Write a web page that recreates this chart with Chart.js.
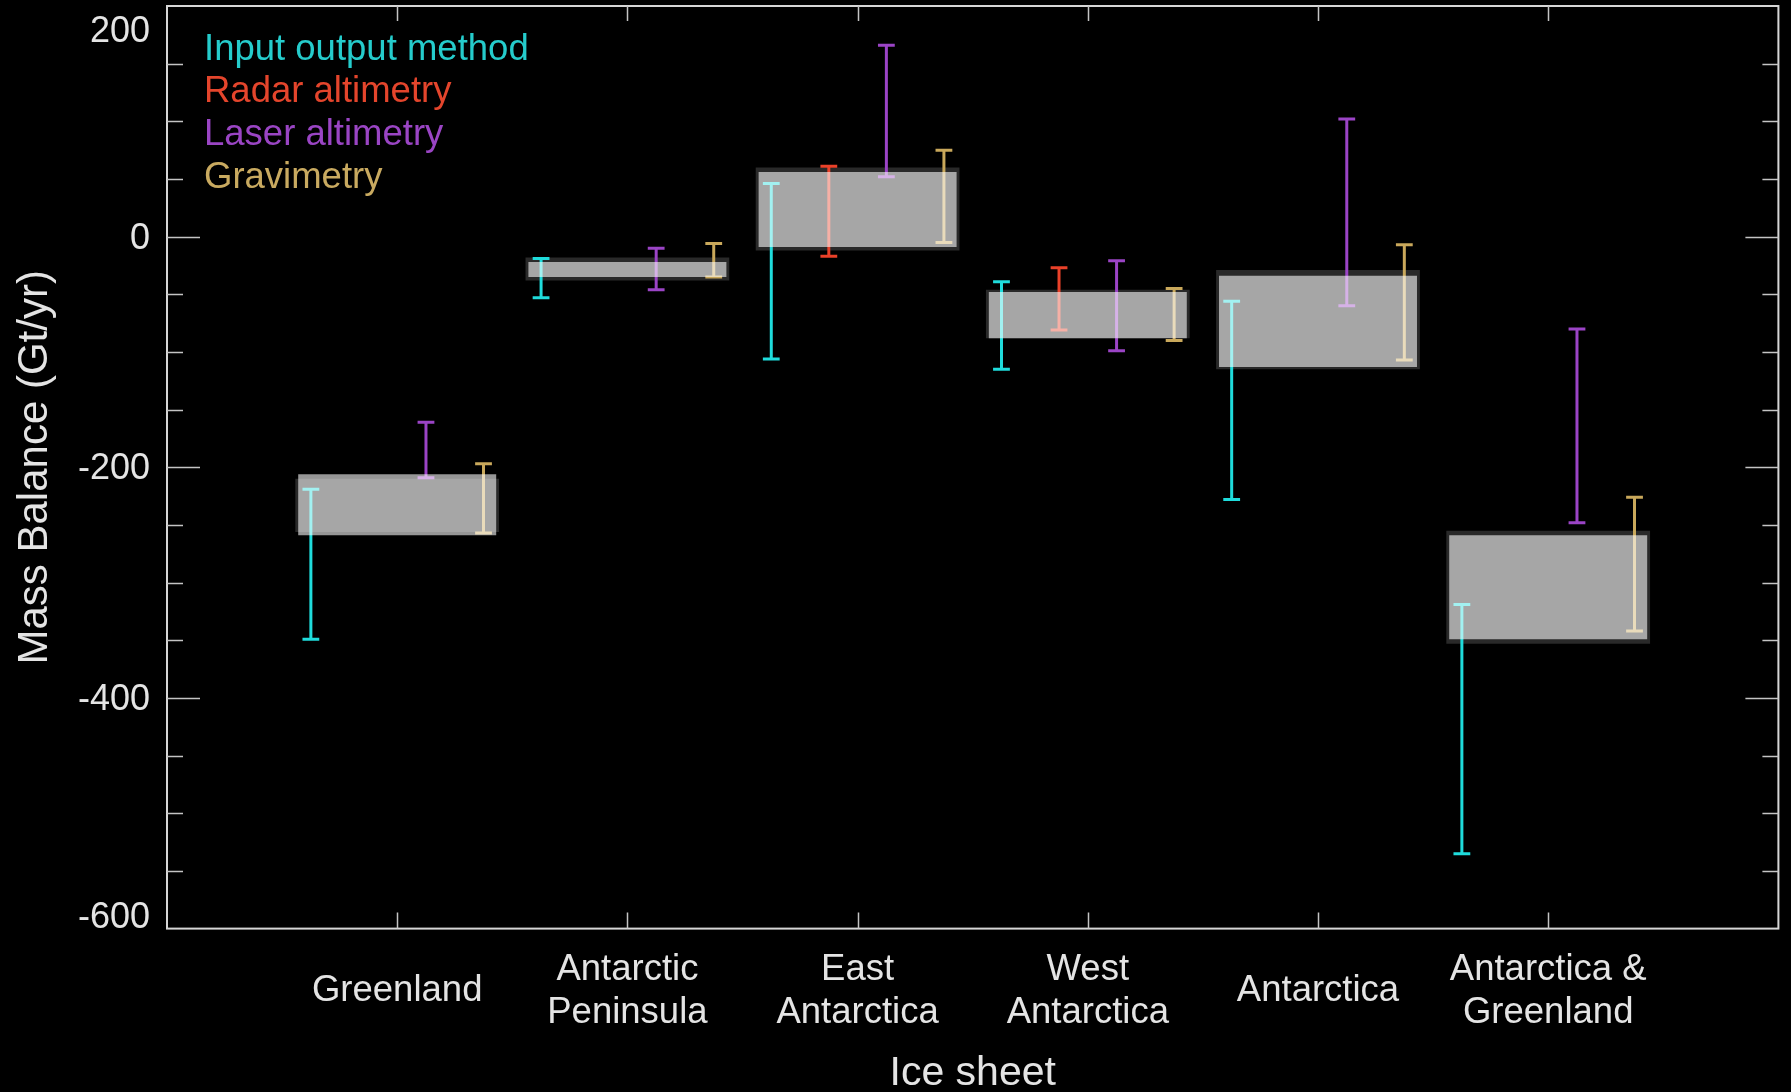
<!DOCTYPE html>
<html>
<head>
<meta charset="utf-8">
<script src="https://cdn.jsdelivr.net/npm/chart.js@4.4.1/dist/chart.umd.min.js"></script>
<style>
  html, body { margin: 0; padding: 0; background: #000; }
  canvas { display: block; }
</style>
</head>
<body>
<canvas id="chart" width="1791" height="1092"></canvas>
<script>
// Ice sheets along the x axis
const categories = [
  'Greenland',
  ['Antarctic', 'Peninsula'],
  ['East', 'Antarctica'],
  ['West', 'Antarctica'],
  'Antarctica',
  ['Antarctica &', 'Greenland']
];

// Measurement methods, in legend order
const methods = ['Input output method', 'Radar altimetry', 'Laser altimetry', 'Gravimetry'];

// Reconciled estimate (light box), Gt/yr
const reconciledLow  = [-259, -35,  -9, -88, -113, -349];
const reconciledHigh = [-206, -22,  56, -48,  -34, -259];

// Outer range (dark box behind), Gt/yr
const outerLow  = [-256, -38, -12, -88, -115, -353];
const outerHigh = [-210, -18,  60, -46,  -29, -255];

// Per-method ranges, Gt/yr (null = no estimate)
const inputOutputLow  = [-349, -53, -106, -115, -228, -535];
const inputOutputHigh = [-219, -19,   46,  -39,  -56, -319];
const radarLow  = [null, null, -17, -81, null, null];
const radarHigh = [null, null,  61, -27, null, null];
const laserLow  = [-209, -46,  52, -99,  -60, -248];
const laserHigh = [-161, -10, 166, -21,  102,  -80];
const gravimetryLow  = [-257, -35, -5, -90, -107, -342];
const gravimetryHigh = [-197,  -6, 75, -45,   -7, -226];

// Value axis
const yMin = -600, yMax = 200;
const yTickLabels = [200, 0, -200, -400, -600];
const yMinorStep = 50;

const methodColors = ['#1fdcdc', '#ea4129', '#9b44c6', '#c9a85b'];
const legendColors = ['#25cccc', '#e4452c', '#9a45c4', '#c9aa60'];
const textColor = '#e4e4e4';
const frameColor = '#d6d6d6';
const FONT = '"Liberation Sans", Arial, Helvetica, sans-serif';

const methodLows = [inputOutputLow, radarLow, laserLow, gravimetryLow];
const methodHighs = [inputOutputHigh, radarHigh, laserHigh, gravimetryHigh];

// Error bars are spread across each category slot
const slotSpread = 0.25;
function errorBarPoints(lows, highs, m) {
  const pts = [];
  const dx = (m - (methods.length - 1) / 2) * slotSpread;
  categories.forEach((_, i) => {
    if (lows[i] === null || highs[i] === null) return;
    const x = i + 1 + dx;
    pts.push({x: x, y: lows[i]}, {x: x, y: highs[i]}, {x: x, y: null});
  });
  return pts;
}

function rangeBars(lows, highs) {
  return categories.map((_, i) => ({x: i + 1, y: [lows[i], highs[i]]}));
}

const datasets = [
  {
    type: 'bar',
    label: 'outer',
    data: rangeBars(outerLow, outerHigh),
    backgroundColor: 'rgba(255,255,255,0.16)',
    borderWidth: 0,
    barPercentage: 0.885,
    categoryPercentage: 1,
    grouped: false,
    order: 3
  },
  ...methods.map((name, m) => ({
    type: 'line',
    label: name,
    data: errorBarPoints(methodLows[m], methodHighs[m], m),
    borderColor: methodColors[m],
    borderWidth: 3,
    pointStyle: 'line',
    pointRadius: 8.4,
    pointBorderWidth: 3,
    pointBorderColor: methodColors[m],
    pointBackgroundColor: methodColors[m],
    spanGaps: false,
    tension: 0,
    fill: false,
    order: 2
  })),
  {
    type: 'bar',
    label: 'reconciled',
    data: rangeBars(reconciledLow, reconciledHigh),
    backgroundColor: 'rgba(255,255,255,0.59)',
    borderWidth: 0,
    barPercentage: 0.86,
    categoryPercentage: 1,
    grouped: false,
    order: 1
  }
];

// Frame, inward tick marks, value labels and the method legend
const framePlugin = {
  id: 'frame',
  afterDraw(chart) {
    const {ctx, chartArea: a, scales: {x, y}} = chart;
    ctx.save();
    ctx.strokeStyle = frameColor;
    ctx.lineWidth = 2;
    ctx.strokeRect(a.left, a.top, a.right - a.left, a.bottom - a.top);

    ctx.lineWidth = 1.5;
    ctx.strokeStyle = '#c4c4c4';
    ctx.beginPath();
    for (let v = yMin + yMinorStep; v < yMax; v += yMinorStep) {
      const py = Math.round(y.getPixelForValue(v)) + 0.5;
      const len = yTickLabels.includes(v) ? 33 : 16;
      ctx.moveTo(a.left, py); ctx.lineTo(a.left + len, py);
      ctx.moveTo(a.right, py); ctx.lineTo(a.right - len, py);
    }
    categories.forEach((_, i) => {
      const px = Math.round(x.getPixelForValue(i + 1)) + 0.5;
      ctx.moveTo(px, a.bottom); ctx.lineTo(px, a.bottom - 16);
      ctx.moveTo(px, a.top); ctx.lineTo(px, a.top + 15);
    });
    ctx.stroke();

    // value labels, kept inside the frame at the two ends
    ctx.fillStyle = textColor;
    ctx.font = '36px ' + FONT;
    ctx.textAlign = 'right';
    ctx.textBaseline = 'middle';
    yTickLabels.forEach(v => {
      let py = y.getPixelForValue(v) + 2;
      py = Math.min(Math.max(py, a.top + 26), a.bottom - 11);
      ctx.fillText(String(v), a.left - 17, py);
    });

    // legend
    ctx.font = '36.5px ' + FONT;
    ctx.textAlign = 'left';
    ctx.textBaseline = 'alphabetic';
    methods.forEach((name, m) => {
      ctx.fillStyle = legendColors[m];
      ctx.fillText(name, a.left + 37, a.top + 53.5 + m * 42.8);
    });
    ctx.restore();
  }
};

new Chart(document.getElementById('chart'), {
  type: 'bar',
  data: {datasets},
  plugins: [framePlugin],
  options: {
    responsive: false,
    animation: false,
    events: [],
    devicePixelRatio: 1,
    layout: {autoPadding: false, padding: {left: 0, top: 6, right: 12.6, bottom: 0}},
    plugins: {legend: {display: false}, tooltip: {enabled: false}},
    scales: {
      x: {
        type: 'linear',
        min: 0,
        max: 7,
        offset: false,
        grid: {display: false, drawTicks: false, offset: false},
        border: {display: false},
        ticks: {
          stepSize: 1,
          autoSkip: false,
          maxRotation: 0,
          minRotation: 0,
          crossAlign: 'center',
          padding: 41,
          color: textColor,
          font: {family: FONT, size: 36.5, lineHeight: 1.19},
          callback: v => (v >= 1 && v <= categories.length ? categories[v - 1] : '')
        },
        title: {
          display: true,
          text: 'Ice sheet',
          color: textColor,
          font: {family: FONT, size: 41, lineHeight: 1},
          padding: {top: 0, bottom: -2}
        },
        afterFit(scale) {
          scale.height = 163.4;
          scale.paddingLeft = 0;
          scale.paddingRight = 0;
        }
      },
      y: {
        min: yMin,
        max: yMax,
        grid: {display: false, drawTicks: false},
        border: {display: false},
        ticks: {display: false},
        title: {
          display: true,
          text: 'Mass Balance (Gt/yr)',
          color: textColor,
          font: {family: FONT, size: 42, lineHeight: 1},
          padding: {top: 14, bottom: 0}
        },
        afterFit(scale) {
          scale.width = 167;
          scale.paddingTop = 0;
          scale.paddingBottom = 0;
        }
      }
    }
  }
});
</script>
</body>
</html>
